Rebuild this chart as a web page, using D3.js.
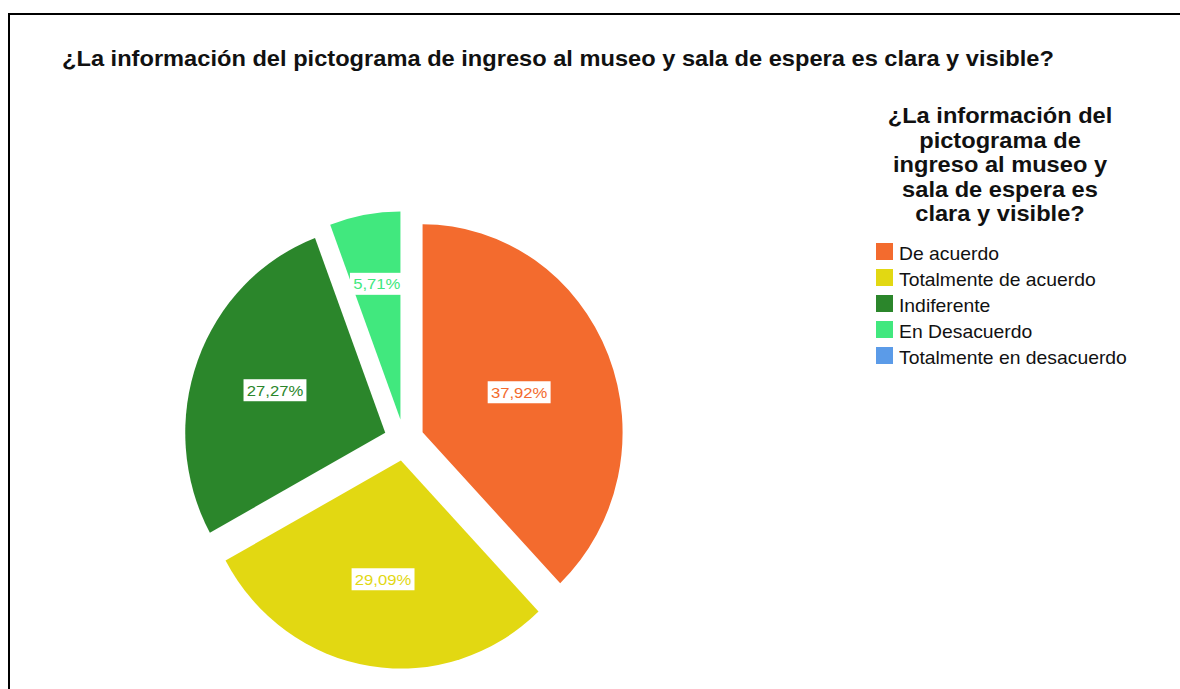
<script src="https://cdn.jsdelivr.net/npm/d3@7"></script>
<style>
body { margin: 0; background: #fff; }
svg { display: block; font-family: "Liberation Sans", Arial, sans-serif; }
</style>

<svg width="1180" height="689"></svg>

<script>
const categories = ['De acuerdo', 'Totalmente de acuerdo', 'Indiferente', 'En Desacuerdo', 'Totalmente en desacuerdo'];
const values = [37.92, 29.09, 27.27, 5.71, 0];
const valueLabels = ['37,92%', '29,09%', '27,27%', '5,71%', '0,00%'];
const colors = ['#f36b2e', '#e2d812', '#2b862b', '#41e87e', '#5b9be8'];

const titleText = '¿La información del pictograma de ingreso al museo y sala de espera es clara y visible?';
const legendTitle = ['¿La información del', 'pictograma de', 'ingreso al museo y', 'sala de espera es', 'clara y visible?'];

// the original text is a little wider than Arial
const stretch = 1.075;

const svg = d3.select('svg');

// frame
svg.append('rect')
  .attr('x', 9).attr('y', 14)
  .attr('width', 1200).attr('height', 700)
  .attr('fill', 'none')
  .attr('stroke', '#000')
  .attr('stroke-width', 2);

svg.append('text')
  .attr('transform', `translate(62,66) scale(${stretch},1)`)
  .attr('font-size', 22)
  .attr('font-weight', 'bold')
  .attr('fill', '#111')
  .text(titleText);

// pie
const cx = 404, cy = 440;
const r = 200, sy = 1.04, explode = 20;

const pie = d3.pie().sort(null).value(d => d);
const arcs = pie(values);
const arc = d3.arc().innerRadius(0).outerRadius(r);

const g = svg.append('g')
  .attr('transform', `translate(${cx},${cy}) scale(1,${sy})`);

const mid = d => (d.startAngle + d.endAngle) / 2;

g.selectAll('path')
  .data(arcs.filter(d => d.value > 0))
  .enter()
  .append('path')
  .attr('d', arc)
  .attr('fill', d => colors[d.index])
  .attr('transform', d => `translate(${explode * Math.sin(mid(d))},${-explode * Math.cos(mid(d))})`);

// labels at sector centroid
const labels = svg.append('g');
arcs.filter(d => d.value > 0).forEach(d => {
  const t = d.endAngle - d.startAngle;
  const dist = explode + (2 * r * Math.sin(t / 2)) / (3 * t / 2);
  const x = cx + dist * Math.sin(mid(d));
  const y = cy - dist * Math.cos(mid(d)) * sy;
  const lg = labels.append('g').attr('transform', `translate(${x},${y}) scale(${stretch},1)`);
  const txt = lg.append('text')
    .attr('text-anchor', 'middle')
    .attr('dy', '0.35em')
    .attr('font-size', 15.5)
    .attr('fill', colors[d.index])
    .text(valueLabels[d.index]);
  const w = txt.node().getComputedTextLength() + 6;
  lg.insert('rect', 'text')
    .attr('x', -w / 2).attr('y', -11)
    .attr('width', w).attr('height', 22)
    .attr('fill', '#fff');
});

// legend
const legend = svg.append('g');
legend.selectAll('text.lt')
  .data(legendTitle)
  .enter()
  .append('text')
  .attr('class', 'lt')
  .attr('transform', (d, i) => `translate(1000,${123 + i * 24.5}) scale(${stretch},1)`)
  .attr('text-anchor', 'middle')
  .attr('font-size', 22)
  .attr('font-weight', 'bold')
  .attr('fill', '#111')
  .text(d => d);

const item = legend.selectAll('g.item')
  .data(categories)
  .enter()
  .append('g')
  .attr('class', 'item')
  .attr('transform', (d, i) => `translate(876,${243 + i * 26})`);

item.append('rect')
  .attr('width', 17).attr('height', 17)
  .attr('fill', (d, i) => colors[i]);

item.append('text')
  .attr('transform', `translate(23,17) scale(${stretch},1)`)
  .attr('font-size', 18)
  .attr('fill', '#111')
  .text(d => d);
</script>
